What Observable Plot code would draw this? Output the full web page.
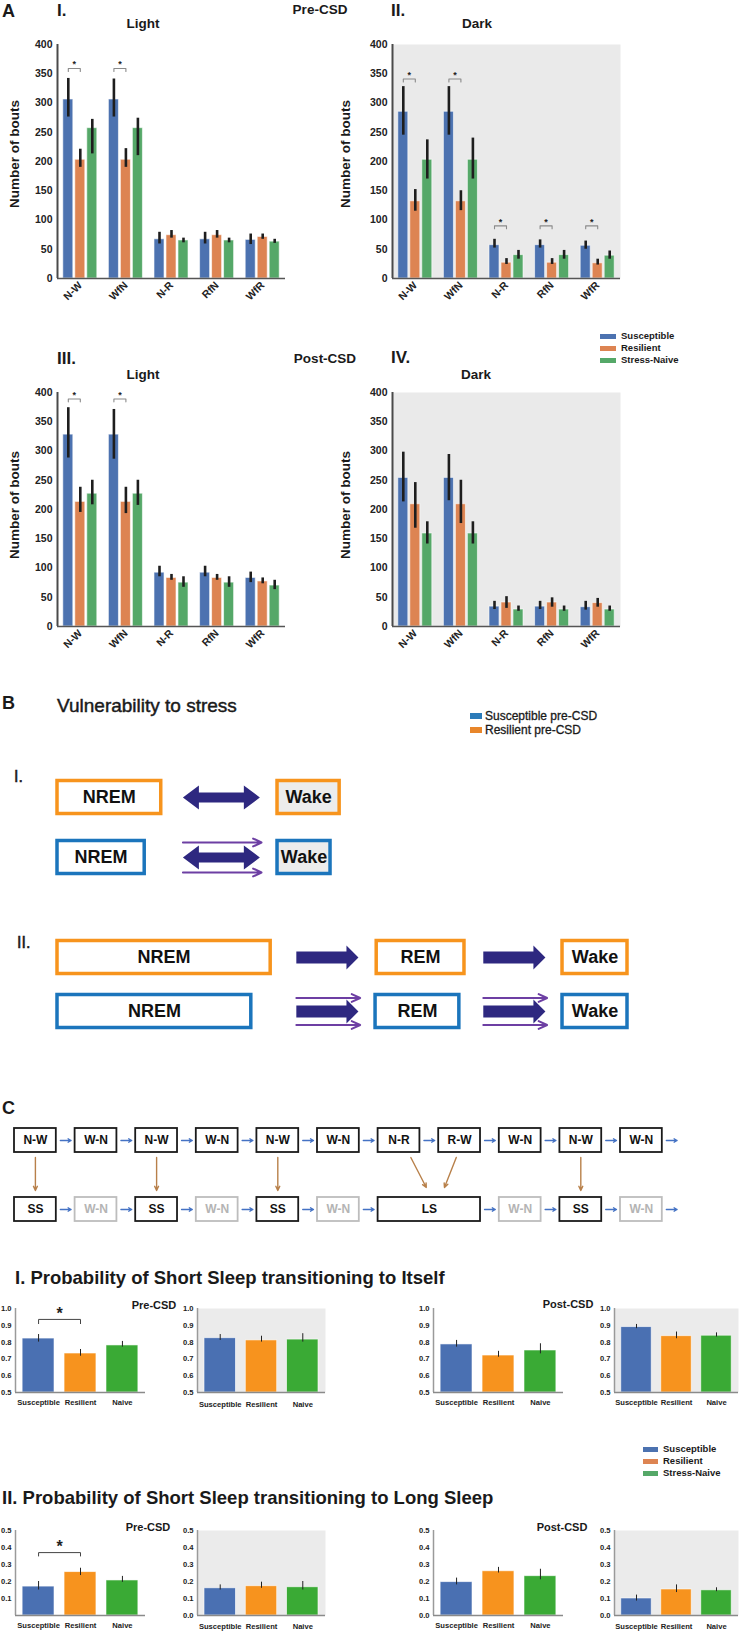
<!DOCTYPE html>
<html>
<head>
<meta charset="utf-8">
<script src="https://cdn.jsdelivr.net/npm/d3@7"></script>
<script src="https://cdn.jsdelivr.net/npm/@observablehq/plot@0.6"></script>
<style>
  html, body { margin: 0; padding: 0; background: #fff; }
  #page { position: relative; width: 745px; height: 1632px; overflow: hidden; font-family: "Liberation Sans", Arial, Helvetica, sans-serif; color: #1a1a1a; }
  .t { position: absolute; white-space: nowrap; line-height: 1; }
  .sw { position: absolute; }
</style>
</head>
<body>
<div id="page"></div>
<script>
// ================= DATA =================
// Panel A: number of bouts per transition type
const transitions = ["N-W", "WfN", "N-R", "RfN", "WfR"];
const groupsA = ["Susceptible", "Resilient", "Stress-Naive"];
const colorsA = ["#4c72b0", "#dd8452", "#55a868"];

// rows: Susceptible, Resilient, Stress-Naive ; columns follow `transitions`
const preLightMean = [[306, 306, 67, 67, 66], [203, 203, 74, 74, 71], [257, 257, 65, 65, 63]];
const preLightLow  = [[276, 276, 59, 59, 58], [190, 190, 69, 69, 67], [213, 210, 61, 61, 60]];
const preLightHigh = [[342, 341, 79, 79, 76], [221, 222, 82, 82, 76], [272, 274, 69, 69, 67]];
const preLightSig = [0, 1];
const preLightSigAt = [359, 359];

const preDarkMean = [[285, 285, 57, 57, 56], [132, 132, 27, 27, 26], [203, 203, 40, 40, 39]];
const preDarkLow  = [[245, 245, 52, 52, 50], [115, 116, 24, 24, 23], [170, 170, 33, 33, 33]];
const preDarkHigh = [[328, 328, 67, 66, 64], [152, 150, 34, 34, 33], [237, 240, 48, 48, 47]];
const preDarkSig = [0, 1, 2, 3, 4];
const preDarkSigAt = [341, 341, 90, 90, 90];

const postLightMean = [[328, 328, 92, 92, 83], [213, 213, 83, 83, 77], [227, 227, 75, 75, 70]];
const postLightLow  = [[288, 286, 85, 85, 75], [195, 193, 79, 79, 73], [208, 207, 67, 67, 63]];
const postLightHigh = [[374, 371, 103, 103, 93], [238, 238, 89, 89, 83], [250, 250, 85, 85, 79]];
const postLightSig = [0, 1];
const postLightSigAt = [389, 389];

const postDarkMean = [[254, 254, 34, 34, 33], [209, 209, 41, 41, 40], [159, 159, 29, 29, 29]];
const postDarkLow  = [[213, 215, 29, 29, 28], [168, 176, 31, 33, 33], [141, 141, 26, 26, 26]];
const postDarkHigh = [[298, 294, 43, 43, 43], [246, 250, 51, 49, 48], [179, 179, 35, 35, 35]];
const postDarkSig = [];
const postDarkSigAt = [];

const boutTicks = [0, 50, 100, 150, 200, 250, 300, 350, 400];

// Panel C: transition probabilities
const groupsC = ["Susceptible", "Resilient", "Naive"];
const colorsC = ["#4a70b2", "#f7931e", "#3aaa35"];
const legendC = ["Susceptible", "Resilient", "Stress-Naive"];

const selfPreLight = [0.821, 0.732, 0.780], selfPreLightLow = [0.800, 0.716, 0.770], selfPreLightHigh = [0.845, 0.756, 0.804];
const selfPreDark = [0.823, 0.810, 0.815], selfPreDarkLow = [0.810, 0.800, 0.800], selfPreDarkHigh = [0.845, 0.835, 0.850];
const selfPostLight = [0.786, 0.720, 0.750], selfPostLightLow = [0.770, 0.710, 0.730], selfPostLightHigh = [0.810, 0.745, 0.790];
const selfPostDark = [0.889, 0.835, 0.838], selfPostDarkLow = [0.880, 0.820, 0.830], selfPostDarkHigh = [0.905, 0.860, 0.855];

const longPreLight = [0.170, 0.255, 0.206], longPreLightLow = [0.150, 0.235, 0.195], longPreLightHigh = [0.200, 0.278, 0.230];
const longPreDark = [0.160, 0.172, 0.166], longPreDarkLow = [0.150, 0.160, 0.150], longPreDarkHigh = [0.180, 0.196, 0.200];
const longPostLight = [0.196, 0.260, 0.231], longPostLightLow = [0.180, 0.250, 0.210], longPostLightHigh = [0.220, 0.283, 0.272];
const longPostDark = [0.100, 0.153, 0.148], longPostDarkLow = [0.085, 0.135, 0.140], longPostDarkHigh = [0.120, 0.180, 0.163];

const selfTicks = [0.5, 0.6, 0.7, 0.8, 0.9, 1.0];
const longTicks = [0.0, 0.1, 0.2, 0.3, 0.4, 0.5];
const longTicksNoZero = [0.1, 0.2, 0.3, 0.4, 0.5];

// Panel B schematic (box extents in schematic units 0–100)
const bRowLabels = ["Resilient pre-CSD", "Susceptible pre-CSD"];
const bRowColors = ["#f7941d", "#1b75bc"];
const bLegendColors = ["#e8862a", "#2b7bb9"];
const bBoxesI = [
  {row: 0, label: "NREM", start: 0, end: 18.2},
  {row: 0, label: "Wake", start: 38.6, end: 49.5, shaded: true},
  {row: 1, label: "NREM", start: 0, end: 15.3},
  {row: 1, label: "Wake", start: 38.6, end: 47.9, shaded: true}
];
const bArrowsI = [{row: 0, start: 22, end: 35.5, both: true, extra: false}, {row: 1, start: 22, end: 35.5, both: true, extra: true}];
const bBoxesII = [
  {row: 0, label: "NREM", start: 0, end: 37.4},
  {row: 0, label: "REM", start: 56, end: 71.4},
  {row: 0, label: "Wake", start: 88.6, end: 100},
  {row: 1, label: "NREM", start: 0, end: 34},
  {row: 1, label: "REM", start: 55.8, end: 70.5},
  {row: 1, label: "Wake", start: 88.6, end: 100}
];
const bArrowsII = [
  {row: 0, start: 41.9, end: 52.8, both: false, extra: false},
  {row: 0, start: 74.7, end: 85.6, both: false, extra: false},
  {row: 1, start: 41.9, end: 52.8, both: false, extra: true},
  {row: 1, start: 74.7, end: 85.6, both: false, extra: true}
];

// Panel C schematic: bout sequence
const seqTop = ["N-W", "W-N", "N-W", "W-N", "N-W", "W-N", "N-R", "R-W", "W-N", "N-W", "W-N"];
const seqBottom = [
  {label: "SS", from: 0, to: 0}, {label: "W-N", from: 1, to: 1, faded: true},
  {label: "SS", from: 2, to: 2}, {label: "W-N", from: 3, to: 3, faded: true},
  {label: "SS", from: 4, to: 4}, {label: "W-N", from: 5, to: 5, faded: true},
  {label: "LS", from: 6, to: 7}, {label: "W-N", from: 8, to: 8, faded: true},
  {label: "SS", from: 9, to: 9}, {label: "W-N", from: 10, to: 10, faded: true}
];
const seqLinks = [{top: 0, bottom: 0}, {top: 2, bottom: 2}, {top: 4, bottom: 4}, {top: 6, bottom: 6}, {top: 7, bottom: 6}, {top: 9, bottom: 8}];

// ================= HELPERS =================
const page = document.getElementById("page");
const FONT = '"Liberation Sans", Arial, Helvetica, sans-serif';

function put(node, left, top) {
  const w = document.createElement("div");
  w.style.position = "absolute";
  w.style.left = left + "px";
  w.style.top = top + "px";
  w.appendChild(node);
  page.appendChild(w);
  return w;
}
function txt(s, x, y, o = {}) {
  const d = document.createElement("div");
  d.className = "t";
  d.textContent = s;
  d.style.left = x + "px";
  d.style.top = y + "px";
  d.style.fontSize = (o.size || 12) + "px";
  d.style.fontWeight = o.weight || "bold";
  d.style.fontFamily = FONT;
  if (o.color) d.style.color = o.color;
  if (o.thick) d.style.webkitTextStroke = o.thick + "px #1a1a1a";
  const tx = o.anchor === "middle" ? "-50%" : o.anchor === "end" ? "-100%" : "0";
  d.style.transform = `translate(${tx}, -50%)` + (o.rotate ? ` rotate(${o.rotate}deg)` : "");
  page.appendChild(d);
}
function swatch(x, y, w, h, color) {
  const d = document.createElement("div");
  d.className = "sw";
  d.style.left = x + "px"; d.style.top = (y - h / 2) + "px";
  d.style.width = w + "px"; d.style.height = h + "px";
  d.style.background = color;
  page.appendChild(d);
}
const style = (size) => ({fontFamily: FONT, fontSize: size + "px", fontWeight: "bold", color: "#222", background: "transparent", overflow: "visible", maxWidth: "none"});

// ================= PANEL A =================
function boutsPlot(mean, low, high, sigIdx, sigAt, dark) {
  const rows = groupsA.flatMap((g, gi) => transitions.map((t, ti) => ({g, gi, ti, v: mean[gi][ti], lo: low[gi][ti], hi: high[gi][ti]})));
  const step = 0.263, half = 0.11;
  const pos = d => d.ti + (d.gi - 1) * step;
  const br = sigIdx.flatMap((ti, k) => {
    const a = ti - step, b = ti, y = sigAt[k];
    return [{k, x: a, y: y - 5}, {k, x: a, y}, {k, x: b, y}, {k, x: b, y: y - 5}];
  });
  const stars = sigIdx.map((ti, k) => ({x: ti - step / 2, y: sigAt[k]}));
  return Plot.plot({
    width: 300, height: 320, marginLeft: 57, marginRight: 15, marginTop: 44, marginBottom: 42,
    style: style(10.5),
    x: {domain: [-0.5, 4.5], ticks: d3.range(transitions.length), tickFormat: i => transitions[i], tickRotate: -45, tickSize: 0, tickPadding: 5, label: null},
    y: {domain: [0, 400], ticks: boutTicks, tickSize: 0, tickPadding: 5, label: null},
    color: {domain: groupsA, range: colorsA},
    marks: [
      dark ? Plot.frame({fill: "#eaeaea", stroke: "none"}) : null,
      Plot.rectY(rows, {x1: d => pos(d) - half, x2: d => pos(d) + half, y1: 0, y2: "v", fill: "g", stroke: "#ffffff", strokeOpacity: 0.6, strokeWidth: 1}),
      Plot.ruleX(rows, {x: pos, y1: "lo", y2: "hi", stroke: "#1e1e1e", strokeWidth: 2.6}),
      Plot.line(br, {x: "x", y: "y", z: "k", stroke: "#8a8a8a", strokeWidth: 1.1}),
      Plot.text(stars, {x: "x", y: "y", text: d => "*", dy: -4, fontSize: 9}),
      Plot.ruleX([-0.5], {stroke: "#4a4a4a", strokeWidth: 2}),
      Plot.ruleY([0], {stroke: "#555", strokeWidth: 1.6})
    ]
  });
}

put(boutsPlot(preLightMean, preLightLow, preLightHigh, preLightSig, preLightSigAt, false), 0, 0);
put(boutsPlot(preDarkMean, preDarkLow, preDarkHigh, preDarkSig, preDarkSigAt, true), 335, 0);
put(boutsPlot(postLightMean, postLightLow, postLightHigh, postLightSig, postLightSigAt, false), 0, 348);
put(boutsPlot(postDarkMean, postDarkLow, postDarkHigh, postDarkSig, postDarkSigAt, true), 335, 348);

txt("A", 2, 11, {size: 18});
txt("I.", 57, 10, {size: 17});
txt("II.", 391, 10, {size: 17});
txt("Pre-CSD", 320, 10, {size: 13.5, anchor: "middle"});
txt("Light", 143, 24, {size: 13.5, anchor: "middle"});
txt("Dark", 477, 24, {size: 13.5, anchor: "middle"});
txt("Number of bouts", 15, 154, {size: 13.5, anchor: "middle", rotate: -90});
txt("Number of bouts", 346, 154, {size: 13.5, anchor: "middle", rotate: -90});
txt("III.", 57, 358, {size: 17});
txt("IV.", 391, 357, {size: 17});
txt("Post-CSD", 325, 359, {size: 13.5, anchor: "middle"});
txt("Light", 143, 375, {size: 13.5, anchor: "middle"});
txt("Dark", 476, 375, {size: 13.5, anchor: "middle"});
txt("Number of bouts", 15, 505, {size: 13.5, anchor: "middle", rotate: -90});
txt("Number of bouts", 346, 505, {size: 13.5, anchor: "middle", rotate: -90});
groupsA.forEach((g, i) => {
  swatch(600, 336 + i * 12, 16, 5, colorsA[i]);
  txt(g, 621, 336 + i * 12, {size: 9.5});
});

// ================= PANEL B =================
function blockArrow(id, x1, x2, y, head, headHalf, shaft, both) {
  const pts = both ? [
    [x1, y], [x1 + head, y - headHalf], [x1 + head, y - shaft], [x2 - head, y - shaft], [x2 - head, y - headHalf], [x2, y],
    [x2 - head, y + headHalf], [x2 - head, y + shaft], [x1 + head, y + shaft], [x1 + head, y + headHalf]
  ] : [
    [x1, y - shaft], [x2 - head, y - shaft], [x2 - head, y - headHalf], [x2, y], [x2 - head, y + headHalf], [x2 - head, y + shaft], [x1, y + shaft]
  ];
  return pts.map(([x, yy]) => ({id, x, y: yy}));
}
function schemePlot(boxes, arrows, rowPx, headPx, headHalfPx, shaftPx, thinOffPx, mT, mB) {
  const pxX = 570 / 100;
  const bh = 16.5 / rowPx;
  const poly = arrows.flatMap((a, i) => blockArrow(i, a.start, a.end, a.row, headPx / pxX, headHalfPx / rowPx, shaftPx / rowPx, a.both));
  const thin = arrows.filter(a => a.extra).flatMap(a => [-1, 1].map(s => ({x1: a.start, x2: a.end + 0.3, y: a.row + s * thinOffPx / rowPx})));
  const marks = [];
  bRowColors.forEach((c, r) => {
    const bx = boxes.filter(b => b.row === r);
    marks.push(Plot.rect(bx, {x1: "start", x2: "end", y1: d => d.row - bh, y2: d => d.row + bh, fill: d => d.shaded ? "#ececec" : "#ffffff", stroke: c, strokeWidth: 3.5}));
  });
  marks.push(
    Plot.text(boxes, {x: d => (d.start + d.end) / 2, y: "row", text: "label", fontSize: 18, fontWeight: "bold", fill: "#111"}),
    Plot.line(poly, {x: "x", y: "y", z: "id", fill: "#2e2880", stroke: "none", curve: "linear-closed"}),
    Plot.arrow(thin, {x1: "x1", x2: "x2", y1: "y", y2: "y", stroke: "#6d3fa3", strokeWidth: 2, headLength: 7, headAngle: 50})
  );
  return Plot.plot({
    width: 745, height: mT + rowPx * 2 + mB, marginLeft: 57, marginRight: 118, marginTop: mT, marginBottom: mB,
    style: style(12),
    x: {domain: [0, 100], axis: null},
    y: {domain: [-0.5, 1.5], reverse: true, axis: null},
    color: {type: "identity"},
    marks
  });
}
txt("B", 2, 703, {size: 18});
txt("Vulnerability to stress", 57, 705, {size: 19, weight: "normal", thick: 0.45});
bRowLabels.slice().reverse().forEach((l, i) => {
  swatch(470, 716 + i * 14, 12, 6, bLegendColors[1 - i]);
  txt(l, 485, 716 + i * 14, {size: 12, weight: "normal", thick: 0.3});
});
txt("I.", 14, 777, {size: 16, weight: "normal", thick: 0.5});
put(schemePlot(bBoxesI, bArrowsI, 60, 16, 12, 5, 15, 7, 7), 0, 760);
txt("II.", 17, 943, {size: 16, weight: "normal", thick: 0.5});
put(schemePlot(bBoxesII, bArrowsII, 54, 12, 12, 6, 13.5, 5, 5), 0, 925);

// ================= PANEL C schematic =================
(function () {
  const bw = 0.69, bh = 12 / 69;
  const topBoxes = seqTop.map((label, i) => ({label, from: i, to: i, row: 0}));
  const botBoxes = seqBottom.map(d => ({...d, row: 1}));
  const all = topBoxes.concat(botBoxes);
  const flow = [];
  topBoxes.forEach(b => flow.push({x1: b.to + bw + 0.066, x2: b.to + 1 - 0.066, y: 0}));
  botBoxes.forEach(b => flow.push({x1: b.to + bw + 0.066, x2: b.to + 1 - 0.066, y: 1}));
  const links = seqLinks.map(l => {
    const t = topBoxes[l.top], b = botBoxes[l.bottom];
    const tc = t.from + bw / 2, bc = (b.from + b.to + bw) / 2;
    const multi = b.to > b.from;
    return {
      x1: multi ? tc + (bc - tc) * 0.25 + 0.07 : tc,
      x2: multi ? bc + (tc - bc) * 0.3 + 0.1 : bc,
      y1: bh + 5 / 69,
      y2: 1 - bh - (multi ? 10 : 7) / 69
    };
  });
  const plot = Plot.plot({
    width: 745, height: 149, marginLeft: 14, marginRight: 64.4, marginTop: 5.5, marginBottom: 5.5,
    style: style(12),
    x: {domain: [0, 11], axis: null},
    y: {domain: [-0.5, 1.5], reverse: true, axis: null},
    marks: [
      Plot.rect(all.filter(d => !d.faded), {x1: "from", x2: d => d.to + bw, y1: d => d.row - bh, y2: d => d.row + bh, fill: "white", stroke: "#1a1a1a", strokeWidth: 1.8}),
      Plot.rect(all.filter(d => d.faded), {x1: "from", x2: d => d.to + bw, y1: d => d.row - bh, y2: d => d.row + bh, fill: "white", stroke: "#bdbdbd", strokeWidth: 1.8}),
      Plot.text(all.filter(d => !d.faded), {x: d => (d.from + d.to + bw) / 2, y: "row", text: "label", fontSize: 12, fontWeight: "bold", fill: "#111"}),
      Plot.text(all.filter(d => d.faded), {x: d => (d.from + d.to + bw) / 2, y: "row", text: "label", fontSize: 12, fontWeight: "bold", fill: "#b4b4b4"}),
      Plot.arrow(flow, {x1: "x1", x2: "x2", y1: "y", y2: "y", stroke: "#4472c4", strokeWidth: 1.3, headLength: 4, headAngle: 60}),
      Plot.arrow(links, {x1: "x1", x2: "x2", y1: "y1", y2: "y2", stroke: "#b8804a", strokeWidth: 1.4, headLength: 5, headAngle: 50})
    ]
  });
  put(plot, 0, 1100);
})();
txt("C", 2, 1108, {size: 18});

// ================= PANEL C charts =================
function probPlot(mean, low, high, domain, ticks, dark, sig, mL, areaW, mR, areaH, mT, mB, pad) {
  const rows = groupsC.map((g, i) => ({g, i, v: mean[i], lo: low[i], hi: high[i]}));
  const hw = 0.38;
  const marks = [];
  if (dark) marks.push(Plot.frame({fill: "#ebebeb", stroke: "none"}));
  marks.push(
    Plot.rectY(rows, {x1: d => d.i - hw, x2: d => d.i + hw, y1: domain[0], y2: "v", fill: "g", stroke: "#ffffff", strokeOpacity: 0.7, strokeWidth: 0.8}),
    Plot.ruleX(rows, {x: "i", y1: "lo", y2: "hi", stroke: "#222", strokeWidth: 1}),
    Plot.ruleX([-0.55], {stroke: "#9a9a9a", strokeWidth: 1.5}),
    Plot.ruleY([domain[0]], {stroke: "#8a8a8a", strokeWidth: 1.5})
  );
  if (sig) {
    const pts = [{x: 0, y: sig.at - sig.drop}, {x: 0, y: sig.at}, {x: 1, y: sig.at}, {x: 1, y: sig.at - sig.drop}];
    marks.push(Plot.line(pts, {x: "x", y: "y", stroke: "#444", strokeWidth: 1}));
    marks.push(Plot.text([{x: 0.5, y: sig.at}], {x: "x", y: "y", text: d => "*", dy: -6, fontSize: 16, fontWeight: "bold"}));
  }
  return Plot.plot({
    width: mL + areaW + mR, height: mT + areaH + mB, marginLeft: mL, marginRight: mR, marginTop: mT, marginBottom: mB,
    style: style(7.6),
    x: {domain: [-0.55, 2.55], ticks: [0, 1, 2], tickFormat: i => groupsC[i], tickSize: 0, tickPadding: pad, label: null},
    y: {domain, ticks, tickFormat: d3.format(".1f"), tickSize: 0, tickPadding: 4, label: null},
    color: {domain: groupsC, range: colorsC},
    marks
  });
}
txt("I. Probability of Short Sleep transitioning to Itself", 15, 1278, {size: 18.5});
const selfDom = [0.5, 1.0];
put(probPlot(selfPreLight, selfPreLightLow, selfPreLightHigh, selfDom, selfTicks, false, {at: 0.935, drop: 0.025}, 15, 130, 10, 84, 10, 22, 7), 0, 1298);
put(probPlot(selfPreDark, selfPreDarkLow, selfPreDarkHigh, selfDom, selfTicks, true, null, 20, 128, 10, 84, 10, 22, 9), 177, 1298);
put(probPlot(selfPostLight, selfPostLightLow, selfPostLightHigh, selfDom, selfTicks, false, null, 20, 130, 10, 84, 10, 22, 7), 413, 1298);
put(probPlot(selfPostDark, selfPostDarkLow, selfPostDarkHigh, selfDom, selfTicks, true, null, 20, 124, 7, 84, 10, 22, 7), 594, 1298);
txt("Pre-CSD", 154, 1305, {size: 11, anchor: "middle"});
txt("Post-CSD", 568, 1304, {size: 11, anchor: "middle"});

legendC.forEach((g, i) => {
  swatch(643, 1449 + i * 12, 15, 5, colorsA[i]);
  txt(g, 663, 1449 + i * 12, {size: 9.5});
});

txt("II. Probability of Short Sleep transitioning to Long Sleep", 2, 1498, {size: 18.5});
const longDom = [0, 0.5];
put(probPlot(longPreLight, longPreLightLow, longPreLightHigh, longDom, longTicksNoZero, false, {at: 0.37, drop: 0.02}, 15, 130, 10, 85, 10, 17, 7), 0, 1520);
put(probPlot(longPreDark, longPreDarkLow, longPreDarkHigh, longDom, longTicks, true, null, 20, 128, 10, 85, 10, 17, 8), 177, 1520);
put(probPlot(longPostLight, longPostLightLow, longPostLightHigh, longDom, longTicks, false, null, 20, 130, 10, 85, 10, 17, 7), 413, 1520);
put(probPlot(longPostDark, longPostDarkLow, longPostDarkHigh, longDom, longTicks, true, null, 20, 124, 7, 85, 10, 17, 8), 594, 1520);
txt("Pre-CSD", 148, 1527, {size: 11, anchor: "middle"});
txt("Post-CSD", 562, 1527, {size: 11, anchor: "middle"});
</script>
</body>
</html>
